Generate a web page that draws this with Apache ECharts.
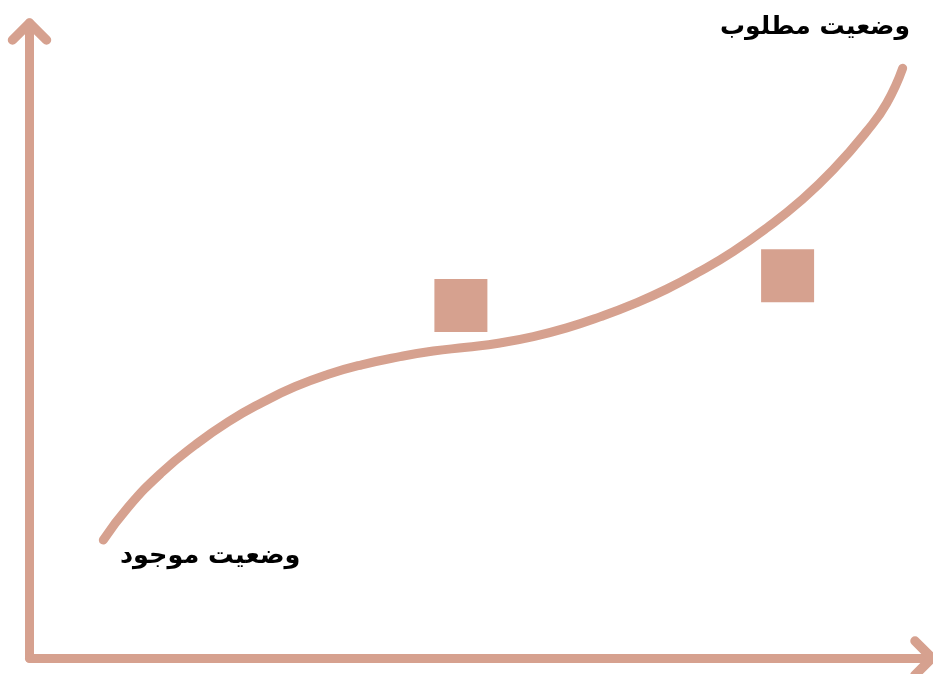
<!DOCTYPE html>
<html>
<head>
<meta charset="utf-8">
<script src="https://cdn.jsdelivr.net/npm/echarts@6/dist/echarts.min.js"></script>
<style>
  html, body { margin: 0; padding: 0; background: #fff; }
</style>
</head>
<body>
<div id="chart" style="width: 933px; height: 674px;"></div>
<script>
// curve from current state to desired state (axis units 0..100)
const curveX = [8.18, 10.95, 14.65, 18.34, 22.03, 25.73, 29.42, 33.11, 36.81, 41.05, 44.74, 48.44, 52.13, 55.82, 59.52, 63.21, 66.90, 70.60, 74.29, 77.98, 81.68, 85.37, 89.06, 92.76, 94.98, 96.75];
const curveY = [18.58, 23.78, 29.21, 33.54, 37.21, 40.20, 42.72, 44.68, 46.17, 47.46, 48.35, 48.93, 49.61, 50.61, 51.98, 53.72, 55.73, 58.09, 60.88, 64.03, 67.72, 71.91, 76.90, 82.93, 87.37, 92.87];
// the two square markers
const squareX = [47.8, 84.0];
const squareY = [55.5, 60.2];
const labelStart = 'وضعیت موجود';
const labelEnd = 'وضعیت مطلوب';

const mainColor = '#d6a18f';
// open chevron arrow head with round ends, pointing up
const chevron = 'path://M16.64 3.64 A4.75 4.75 0 0 1 23.36 3.64 L40.36 20.64 A4.75 4.75 0 0 1 33.64 27.36 L20 13.72 L6.36 27.36 A4.75 4.75 0 0 1 -0.36 20.64 Z';

const chartDom = document.getElementById('chart');
const myChart = echarts.init(chartDom);

const axisLine = {
  show: true,
  symbol: ['none', chevron],
  symbolSize: [43.5, 26.5],
  symbolOffset: [0, -8.5],
  lineStyle: { color: mainColor, width: 9, cap: 'round' }
};

const option = {
  animation: false,
  grid: { left: 29.5, right: 1, top: 23, bottom: 16 },
  xAxis: {
    type: 'value',
    min: 0,
    max: 100,
    axisLine: axisLine,
    axisTick: { show: false },
    axisLabel: { show: false },
    splitLine: { show: false }
  },
  yAxis: {
    type: 'value',
    min: 0,
    max: 100,
    axisLine: axisLine,
    axisTick: { show: false },
    axisLabel: { show: false },
    splitLine: { show: false }
  },
  series: [
    {
      type: 'line',
      data: curveX.map((x, i) => [x, curveY[i]]),
      smooth: 0.5,
      showSymbol: false,
      silent: true,
      lineStyle: { color: mainColor, width: 9, cap: 'round' }
    },
    {
      type: 'scatter',
      data: squareX.map((x, i) => [x, squareY[i]]),
      symbol: 'rect',
      symbolSize: 53,
      silent: true,
      itemStyle: { color: mainColor, opacity: 1 }
    }
  ],
  graphic: [
    {
      type: 'text',
      style: {
        text: labelEnd,
        x: 910,
        y: 27,
        align: 'right',
        verticalAlign: 'middle',
        fill: '#000',
        font: 'bold 25px "DejaVu Sans"'
      }
    },
    {
      type: 'text',
      style: {
        text: labelStart,
        x: 120,
        y: 556,
        align: 'left',
        verticalAlign: 'middle',
        fill: '#000',
        font: 'bold 25.5px "DejaVu Sans"'
      }
    }
  ]
};

myChart.setOption(option);
</script>
</body>
</html>
